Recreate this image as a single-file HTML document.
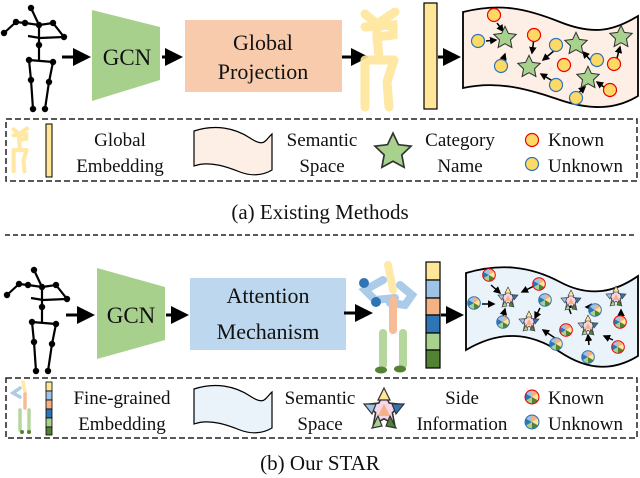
<!DOCTYPE html>
<html><head><meta charset="utf-8"><style>
html,body{margin:0;padding:0;background:#fff;}
svg{display:block;}
text{font-family:"Liberation Serif",serif;fill:#111;}
</style></head><body>
<svg width="640" height="478" viewBox="0 0 640 478" xmlns="http://www.w3.org/2000/svg">
<defs>
<marker id="ah" markerWidth="6" markerHeight="6" refX="5" refY="3" orient="auto" markerUnits="strokeWidth"><path d="M0,0 L6,3 L0,6 z" fill="#000"/></marker>
<marker id="as" markerWidth="5" markerHeight="5" refX="4" refY="2.5" orient="auto" markerUnits="strokeWidth"><path d="M0,0 L5,2.5 L0,5 z" fill="#000"/></marker>
<g id="skel" stroke="#000" stroke-width="2.2" fill="none">
<path d="M31,8 L39,25 L25,23 L16,22 L4,33 M39,25 L53,23 L64,37 L40,38 L28,36 M39,25 L39,45 L39,60 M29,60 L53,62 M29,60 L31,80 L33,109 M53,62 L49,82 L45,109"/>
<g fill="#000" stroke="none"><circle cx="31" cy="8" r="3.2"/><circle cx="39" cy="25" r="3.2"/><circle cx="25" cy="23" r="3.2"/><circle cx="16" cy="22" r="3.2"/><circle cx="4" cy="33" r="3.2"/><circle cx="53" cy="23" r="3.2"/><circle cx="64" cy="37" r="3.2"/><circle cx="39" cy="45" r="3.2"/><circle cx="29" cy="60" r="3.2"/><circle cx="53" cy="62" r="3.2"/><circle cx="31" cy="80" r="3.2"/><circle cx="49" cy="82" r="3.2"/><circle cx="33" cy="109" r="3.2"/><circle cx="45" cy="109" r="3.2"/></g>
</g>
<g id="yskel" stroke="#ffe699" stroke-width="9" stroke-linecap="round" fill="none" opacity="0.9">
<path d="M8,12 L20,22 L38,10 M20,22 L20,35 L36,33 L36,23 L8,25 M20,35 L22,55 M8,58 L37,58 M8,58 L8,105 M37,58 L30,80 L32,105"/>
</g>
<g id="pie">
<path d="M0,0 L0,-6 A6,6 0 0 1 5.2,-3 z" fill="#f4b183"/>
<path d="M0,0 L5.2,-3 A6,6 0 0 1 5.2,3 z" fill="#ffe699"/>
<path d="M0,0 L5.2,3 A6,6 0 0 1 0,6 z" fill="#548235"/>
<path d="M0,0 L0,6 A6,6 0 0 1 -5.2,3 z" fill="#a9d18e"/>
<path d="M0,0 L-5.2,3 A6,6 0 0 1 -5.2,-3 z" fill="#2e75b6"/>
<path d="M0,0 L-5.2,-3 A6,6 0 0 1 0,-6 z" fill="#9dc3e6"/>
</g>
<g id="pk"><use href="#pie"/><circle r="6.3" fill="none" stroke="#e00" stroke-width="1"/></g>
<g id="pu"><use href="#pie"/><circle r="6.3" fill="none" stroke="#2e75b6" stroke-width="1"/></g>
<g id="sstar">
<polygon points="0,-9 2.6,-3.5 8.6,-2.8 4.2,1.4 5.3,7.3 0,4.4 -5.3,7.3 -4.2,1.4 -8.6,-2.8 -2.6,-3.5" fill="#f6d5e8" stroke="#333" stroke-width="0.8"/>
<polygon points="0,-11 3,-5 -3,-5" fill="#ffe699" stroke="#333" stroke-width="0.6"/>
<polygon points="-10,-3 -4,-3 -6,2" fill="#9dc3e6" stroke="#333" stroke-width="0.6"/>
<polygon points="10,-3 4,-3 6,2" fill="#2e75b6" stroke="#333" stroke-width="0.6"/>
<polygon points="-6,9 -3,3 -1,8" fill="#a9d18e" stroke="#333" stroke-width="0.6"/>
<polygon points="6,9 3,3 1,8" fill="#548235" stroke="#333" stroke-width="0.6"/>
<polygon points="0,-3 3,3 -3,3" fill="#f4b183"/>
</g>
<polygon id="gstar" points="0,-9 2.6,-3.5 8.6,-2.8 4.2,1.4 5.3,7.3 0,4.4 -5.3,7.3 -4.2,1.4 -8.6,-2.8 -2.6,-3.5" fill="#a9d18e" stroke="#333" stroke-width="0.8"/>
</defs>

<!-- ===== TOP ===== -->
<use href="#skel"/>
<line x1="62" y1="57" x2="88" y2="57" stroke="#000" stroke-width="3" marker-end="url(#ah)"/>
<polygon points="92,10 160,27 160,80 92,101" fill="#a8d08d"/>
<text x="127" y="65" font-size="23" text-anchor="middle">GCN</text>
<line x1="162" y1="57" x2="180" y2="57" stroke="#000" stroke-width="3" marker-end="url(#ah)"/>
<rect x="185" y="20" width="157" height="72" fill="#f8cbad"/>
<text x="263" y="50" font-size="22" text-anchor="middle">Global</text>
<text x="263" y="79" font-size="22" text-anchor="middle">Projection</text>
<line x1="342" y1="57" x2="366" y2="57" stroke="#000" stroke-width="3" marker-end="url(#ah)"/>
<g transform="translate(357,2)"><use href="#yskel"/></g>
<rect x="424" y="3" width="13" height="106" fill="#ffe699" stroke="#000" stroke-width="1.2"/>
<line x1="438" y1="57" x2="458" y2="57" stroke="#000" stroke-width="3" marker-end="url(#ah)"/>
<path d="M463,12 C500,3 525,8 560,22 S615,30 638,16 L638,96 C615,110 590,110 560,100 S500,80 463,88 Z" fill="#fdefe6" stroke="#000" stroke-width="1.8"/>
<g stroke="#000" stroke-width="1.5" marker-end="url(#as)">
<line x1="497" y1="23" x2="503" y2="31"/><line x1="486" y1="41" x2="496" y2="40"/><line x1="502" y1="63" x2="505" y2="54"/>
<line x1="534" y1="38" x2="532" y2="53"/><line x1="555" y1="50" x2="543" y2="60"/><line x1="556" y1="83" x2="541" y2="74"/>
<line x1="593" y1="63" x2="583" y2="52"/><line x1="617" y1="58" x2="620" y2="47"/><line x1="608" y1="90" x2="597" y2="82"/><line x1="576" y1="95" x2="585" y2="87"/>
</g>
<g transform="translate(505,38) scale(1.3)"><use href="#gstar"/></g>
<g transform="translate(529,67) scale(1.3)"><use href="#gstar"/></g>
<g transform="translate(576,44) scale(1.3)"><use href="#gstar"/></g>
<g transform="translate(621,37) scale(1.3)"><use href="#gstar"/></g>
<g transform="translate(588,78) scale(1.3)"><use href="#gstar"/></g>
<g fill="#ffd966" stroke-width="1.2">
<circle cx="494" cy="15" r="6.5" stroke="#e00"/><circle cx="534" cy="35" r="6.5" stroke="#e00"/><circle cx="564" cy="65" r="6.5" stroke="#e00"/><circle cx="614" cy="64" r="6.5" stroke="#e00"/><circle cx="610" cy="90" r="6.5" stroke="#e00"/>
<circle cx="478" cy="41" r="6.5" stroke="#2e75b6"/><circle cx="501" cy="66" r="6.5" stroke="#2e75b6"/><circle cx="556" cy="45" r="6.5" stroke="#2e75b6"/><circle cx="597" cy="60" r="6.5" stroke="#2e75b6"/><circle cx="556" cy="85" r="6.5" stroke="#2e75b6"/><circle cx="576" cy="98" r="6.5" stroke="#2e75b6"/>
</g>
<rect x="6" y="119" width="631" height="62" fill="none" stroke="#222" stroke-width="1.5" stroke-dasharray="6,3"/>
<g transform="translate(10,124) scale(0.45)"><use href="#yskel"/></g>
<rect x="46" y="124" width="6" height="53" fill="#ffe699" stroke="#000" stroke-width="1"/>
<text x="120" y="146" font-size="19" text-anchor="middle">Global</text>
<text x="120" y="172" font-size="19" text-anchor="middle">Embedding</text>
<path d="M194,131 C215,124 235,128 250,138 S265,140 272,134 L272,170 C262,176 250,176 240,172 S210,160 194,166 Z" fill="#fdefe6" stroke="#000" stroke-width="1.2"/>
<text x="322" y="146" font-size="19" text-anchor="middle">Semantic</text>
<text x="322" y="172" font-size="19" text-anchor="middle">Space</text>
<g transform="translate(393,152) scale(2.1)"><use href="#gstar"/></g>
<text x="460" y="146" font-size="19" text-anchor="middle">Category</text>
<text x="460" y="172" font-size="19" text-anchor="middle">Name</text>
<circle cx="532" cy="140" r="6.5" fill="#ffd966" stroke="#e00" stroke-width="1.2"/>
<circle cx="532" cy="164" r="6.5" fill="#ffd966" stroke="#2e75b6" stroke-width="1.2"/>
<text x="548" y="146" font-size="19">Known</text>
<text x="548" y="172" font-size="19">Unknown</text>
<text x="320" y="219" font-size="21" text-anchor="middle">(a) Existing Methods</text>
<line x1="5" y1="235" x2="636" y2="235" stroke="#222" stroke-width="1.5" stroke-dasharray="5,3"/>

<!-- ===== BOTTOM ===== -->
<g transform="translate(3,262)"><use href="#skel"/></g>
<line x1="66" y1="315" x2="92" y2="315" stroke="#000" stroke-width="3" marker-end="url(#ah)"/>
<polygon points="97,268 165,287 165,340 97,359" fill="#a8d08d"/>
<text x="131" y="323" font-size="23" text-anchor="middle">GCN</text>
<line x1="166" y1="315" x2="186" y2="315" stroke="#000" stroke-width="3" marker-end="url(#ah)"/>
<rect x="190" y="278" width="156" height="72" fill="#bdd7ee"/>
<text x="268" y="303" font-size="22" text-anchor="middle">Attention</text>
<text x="268" y="339" font-size="22" text-anchor="middle">Mechanism</text>
<line x1="344" y1="313" x2="370" y2="313" stroke="#000" stroke-width="3" marker-end="url(#ah)"/>
<g stroke-linecap="round" fill="none" stroke-width="8" opacity="0.85">
<path d="M388,265 L393,290" stroke="#ffe699"/>
<path d="M383,280 L365,290 L375,300 L395,298" stroke="#9dc3e6"/>
<path d="M400,285 L412,295 L405,305 L390,303" stroke="#9dc3e6"/>
<path d="M393,300 L393,330" stroke="#f4b183"/>
<path d="M383,333 L383,365 M403,333 L403,365" stroke="#a9d18e"/>
</g>
<circle cx="364" cy="283" r="5" fill="#2e75b6"/><circle cx="376" cy="302" r="5" fill="#2e75b6"/>
<ellipse cx="381" cy="370" rx="6" ry="3.5" fill="#548235"/><ellipse cx="400" cy="369" rx="6" ry="3.5" fill="#548235"/>
<g stroke="#000" stroke-width="1.2">
<rect x="426" y="262" width="14" height="18" fill="#ffe699"/><rect x="426" y="280" width="14" height="18" fill="#9dc3e6"/><rect x="426" y="298" width="14" height="17" fill="#f4b183"/><rect x="426" y="315" width="14" height="18" fill="#2e75b6"/><rect x="426" y="333" width="14" height="17" fill="#a9d18e"/><rect x="426" y="350" width="14" height="18" fill="#548235"/>
</g>
<line x1="441" y1="315" x2="461" y2="315" stroke="#000" stroke-width="3" marker-end="url(#ah)"/>
<path d="M466,273 C500,263 530,266 560,282 S615,292 638,276 L638,356 C615,370 590,372 560,352 S500,330 466,350 Z" fill="#eaf2fa" stroke="#000" stroke-width="1.8"/>
<g stroke="#000" stroke-width="1.5" marker-end="url(#as)">
<line x1="491" y1="285" x2="500" y2="293"/><line x1="482" y1="304" x2="494" y2="304"/><line x1="502" y1="320" x2="505" y2="309"/>
<line x1="534" y1="286" x2="522" y2="292"/><line x1="540" y1="308" x2="535" y2="318"/><line x1="555" y1="338" x2="543" y2="330"/>
<line x1="571" y1="314" x2="567" y2="303"/><line x1="598" y1="307" x2="586" y2="307"/><line x1="589" y1="345" x2="588" y2="335"/><line x1="613" y1="340" x2="604" y2="336"/><line x1="621" y1="320" x2="621" y2="310"/>
</g>
<use href="#sstar" x="508" y="298"/><use href="#sstar" x="529" y="322"/><use href="#sstar" x="571" y="301"/><use href="#sstar" x="616" y="297"/><use href="#sstar" x="588" y="326"/>
<use href="#pk" x="489" y="275"/><use href="#pk" x="539" y="284"/><use href="#pk" x="566" y="330"/><use href="#pk" x="620" y="322"/><use href="#pk" x="618" y="347"/>
<use href="#pu" x="474" y="303"/><use href="#pu" x="503" y="322"/><use href="#pu" x="545" y="300"/><use href="#pu" x="595" y="310"/><use href="#pu" x="556" y="344"/><use href="#pu" x="588" y="357"/>
<rect x="6" y="378" width="631" height="60" fill="none" stroke="#222" stroke-width="1.5" stroke-dasharray="6,3"/>
<g stroke-linecap="round" fill="none" stroke-width="3.5" opacity="0.85">
<path d="M23,382 L25,392" stroke="#ffe699"/><path d="M20,388 L13,393 L20,397" stroke="#9dc3e6"/><path d="M25,394 L25,408" stroke="#f4b183"/><path d="M20,410 L20,430 M29,410 L29,430" stroke="#a9d18e"/>
</g>
<circle cx="22" cy="432" r="2" fill="#548235"/><circle cx="29" cy="432" r="2" fill="#548235"/>
<g stroke="#000" stroke-width="0.8">
<rect x="46" y="382" width="6" height="9" fill="#ffe699"/><rect x="46" y="391" width="6" height="9" fill="#9dc3e6"/><rect x="46" y="400" width="6" height="9" fill="#f4b183"/><rect x="46" y="409" width="6" height="9" fill="#2e75b6"/><rect x="46" y="418" width="6" height="9" fill="#a9d18e"/><rect x="46" y="427" width="6" height="8" fill="#548235"/>
</g>
<text x="122" y="404" font-size="19" text-anchor="middle">Fine-grained</text>
<text x="122" y="430" font-size="19" text-anchor="middle">Embedding</text>
<path d="M194,389 C215,382 235,386 250,396 S265,398 272,392 L272,428 C262,434 250,434 240,430 S210,418 194,424 Z" fill="#eaf2fa" stroke="#000" stroke-width="1.2"/>
<text x="320" y="404" font-size="19" text-anchor="middle">Semantic</text>
<text x="320" y="430" font-size="19" text-anchor="middle">Space</text>
<g transform="translate(384,410) scale(2)"><use href="#sstar"/></g>
<text x="462" y="404" font-size="19" text-anchor="middle">Side</text>
<text x="462" y="430" font-size="19" text-anchor="middle">Information</text>
<g transform="translate(532,397) scale(1.1)"><use href="#pk"/></g>
<g transform="translate(532,422) scale(1.1)"><use href="#pu"/></g>
<text x="548" y="404" font-size="19">Known</text>
<text x="548" y="430" font-size="19">Unknown</text>
<text x="320" y="470" font-size="21" text-anchor="middle">(b) Our STAR</text>
</svg>
</body></html>
